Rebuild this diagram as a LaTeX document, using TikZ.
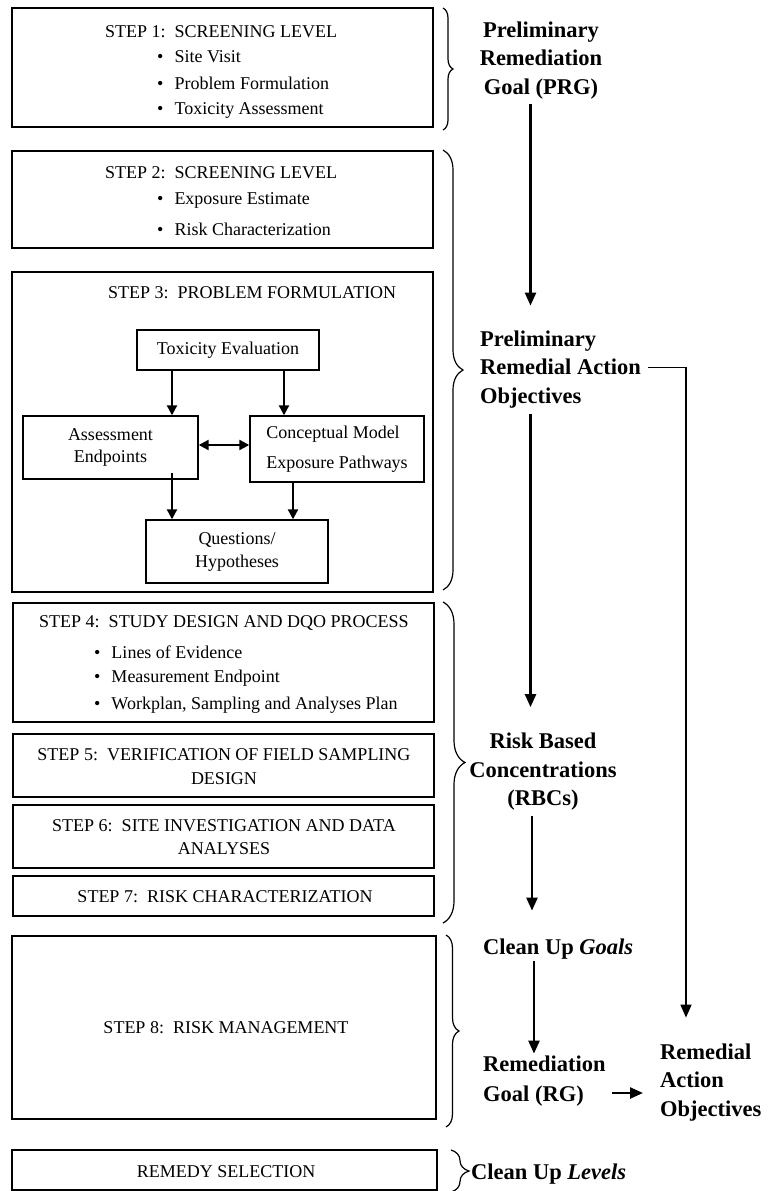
\documentclass[tikz,border=0pt]{standalone}
\usepackage{fontspec}
\setmainfont{Liberation Serif}
\usetikzlibrary{arrows.meta,decorations.pathreplacing}
\begin{document}
\begin{tikzpicture}[x=1pt,y=-1pt,
  box/.style={draw, line width=1.4pt, inner sep=0pt},
  txt/.style={font=\fontsize{18}{24}\selectfont, inner sep=0pt},
  lbl/.style={font=\fontsize{22.5}{28.5}\selectfont\bfseries, inner sep=0pt},
  arr/.style={line width=2.4pt, -{Triangle[length=13pt,width=11pt]}},
  sarr/.style={line width=2.2pt, -{Triangle[length=10pt,width=10pt]}},
  darr/.style={line width=2.2pt, {Triangle[length=10pt,width=10pt]}-{Triangle[length=10pt,width=10pt]}},
  conn/.style={line width=1.5pt},
  brc/.style={decorate, line width=1.2pt},
]
\useasboundingbox (0,0) rectangle (770,1191);

% ---------- step boxes ----------
\node[box, minimum width=421pt, minimum height=119pt] (s1) at (222.5,67.5) {};
\node[box, minimum width=421pt, minimum height=97pt]  (s2) at (222.5,199.5) {};
\node[box, minimum width=421pt, minimum height=320pt] (s3) at (222.5,432) {};
\node[box, minimum width=421pt, minimum height=119pt] (s4) at (223.5,662.5) {};
\node[box, minimum width=421pt, minimum height=63pt]  (s5) at (223.5,765.5) {};
\node[box, minimum width=421pt, minimum height=63pt]  (s6) at (223.5,836.5) {};
\node[box, minimum width=421pt, minimum height=40pt]  (s7) at (223.5,896) {};
\node[box, minimum width=424pt, minimum height=183pt] (s8) at (224,1027.5) {};
\node[box, minimum width=425pt, minimum height=40pt]  (rem) at (224.5,1170) {};

% ---------- step texts ----------
\node[txt] (t1) at (221,32) {STEP 1:\ \ SCREENING LEVEL};
\node[txt, anchor=west] (t1a) at (157,57) {•\hspace{11pt}Site Visit};
\node[txt, anchor=west] (t1b) at (157,83) {•\hspace{11pt}Problem Formulation};
\node[txt, anchor=west] (t1c) at (157,110) {•\hspace{11pt}Toxicity Assessment};

\node[txt] (t2) at (221,173) {STEP 2:\ \ SCREENING LEVEL};
\node[txt, anchor=west] (t2a) at (157,200) {•\hspace{11pt}Exposure Estimate};
\node[txt, anchor=west] (t2b) at (157,229) {•\hspace{11pt}Risk Characterization};

\node[txt, anchor=west] (t3) at (108,293) {STEP 3:\ \ PROBLEM FORMULATION};

\node[txt] (t4) at (224,623) {STEP 4:\ \ STUDY DESIGN AND DQO PROCESS};
\node[txt, anchor=west] (t4a) at (94,652) {•\hspace{11pt}Lines of Evidence};
\node[txt, anchor=west] (t4b) at (94,678) {•\hspace{11pt}Measurement Endpoint};
\node[txt, anchor=west] (t4c) at (94,705) {•\hspace{11pt}Workplan, Sampling and Analyses Plan};

\node[txt, align=center] (t5) at (224,766.5) {STEP 5:\ \ VERIFICATION OF FIELD SAMPLING\\DESIGN};
\node[txt, align=center, font=\fontsize{18}{23}\selectfont] (t6) at (224,837.5) {STEP 6:\ \ SITE INVESTIGATION AND DATA\\ANALYSES};
\node[txt] (t7) at (225,897) {STEP 7:\ \ RISK CHARACTERIZATION};
\node[txt] (t8) at (226,1028) {STEP 8:\ \ RISK MANAGEMENT};
\node[txt] (tr) at (226,1172) {REMEDY SELECTION};

% ---------- step 3 inner flow ----------
\node[box, txt, minimum width=182pt, minimum height=40pt] (tox) at (228,350) {Toxicity Evaluation};
\node[box, txt, align=center, font=\fontsize{18}{22}\selectfont, minimum width=175pt, minimum height=63pt] (ae) at (110.5,447.5) {Assessment\\Endpoints};
\node[box, txt, align=left, font=\fontsize{18}{30}\selectfont, minimum width=174pt, minimum height=66pt] (cm) at (337,449) {Conceptual Model\\Exposure Pathways};
\node[box, txt, align=center, font=\fontsize{18}{23}\selectfont, minimum width=182pt, minimum height=63pt] (qh) at (237,551.5) {Questions/\\Hypotheses};

\draw[sarr] ([xshift=-56pt]tox.south) -- ([xshift=61.5pt]ae.north);
\draw[sarr] ([xshift=56pt]tox.south) -- ([xshift=-53pt]cm.north);
\draw[darr] ([yshift=2.5pt]ae.east) -- ([yshift=2.5pt]ae.east -| cm.west);
\draw[sarr] ([xshift=61.5pt,yshift=7pt]ae.south) -- ([xshift=-65pt]qh.north);
\draw[sarr] ([xshift=-44pt]cm.south) -- ([xshift=56pt]qh.north);

% ---------- braces ----------
\draw[brc, decoration={brace, amplitude=10pt}] (443,8) -- (443,130);
\draw[brc, decoration={brace, amplitude=20pt}] (443,150) -- (443,590);
\draw[brc, decoration={brace, amplitude=22pt}] (443,602) -- (443,923);
\draw[brc, decoration={brace, amplitude=13pt}] (446,935) -- (446,1127);
\draw[brc, decoration={brace, amplitude=18pt}] (451,1150) -- (451,1192);

% ---------- right-hand labels ----------
\node[lbl, align=center] (prg) at (541,60.5) {Preliminary\\Remediation\\Goal (PRG)};
\node[lbl, align=left, anchor=west] (pra) at (480,369.5) {Preliminary\\Remedial Action\\Objectives};
\node[lbl, align=center] (rbc) at (543,772) {Risk Based\\Concentrations\\(RBCs)};
\node[lbl, anchor=west] (cug) at (483,949) {Clean Up \textit{Goals}};
\node[lbl, align=left, anchor=west, font=\fontsize{22.5}{30}\selectfont\bfseries] (rg) at (483,1081) {Remediation\\Goal (RG)};
\node[lbl, align=left, anchor=west] (rao) at (660,1082.5) {Remedial\\Action\\Objectives};
\node[lbl, anchor=west] (cul) at (471,1174) {Clean Up \textit{Levels}};

% ---------- right-hand connectors ----------
\coordinate (cA) at (530.5,0);
\coordinate (cB) at (532,0);
\coordinate (cC) at (534,0);
\coordinate (rx) at (686,0);

\draw[arr, shorten <=5pt, shorten >=25pt] (prg.south -| cA) -- (pra.north -| cA);
\draw[arr, shorten <=6pt, shorten >=26pt] (pra.south -| cA) -- (rbc.north -| cA);
\draw[arr, shorten <=5pt, shorten >=28pt] (rbc.south -| cB) -- (cug.north -| cB);
\draw[arr, shorten <=2pt, shorten >=2pt] (cug.south -| cC) -- (rg.north -| cC);
\draw[arr, shorten <=6pt, shorten >=17pt] ([yshift=-12pt]rg.east) -- ([yshift=-12pt]rg.east -| rao.west);
\draw[conn, -{Triangle[length=13pt,width=11pt]}, shorten <=7pt, shorten >=26pt]
  ([yshift=2pt]pra.east) -- ([yshift=2pt]pra.east -| rx) -- (rx |- rao.north);
\end{tikzpicture}
\end{document}
